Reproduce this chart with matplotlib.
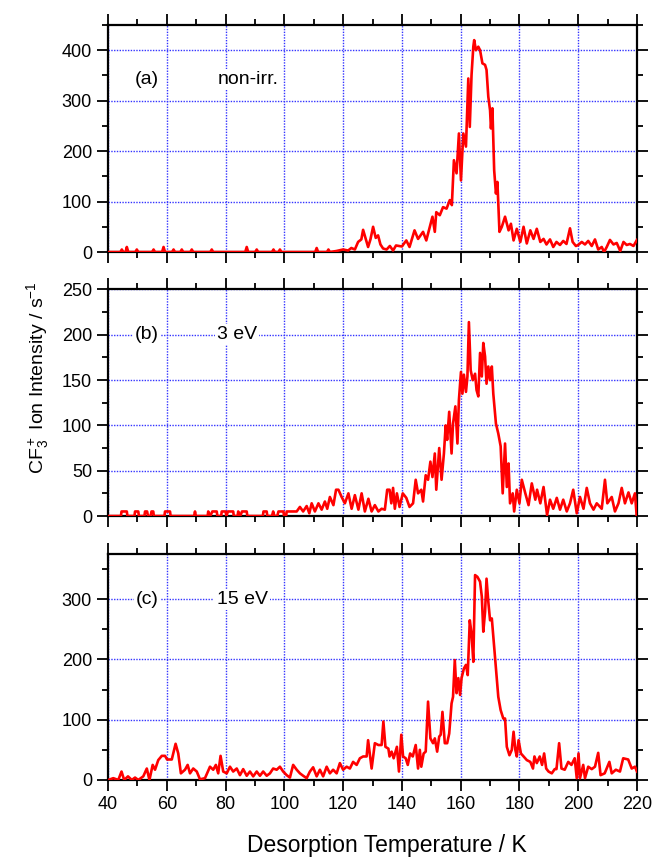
import matplotlib
matplotlib.use("Agg")
import matplotlib.pyplot as plt
from matplotlib.ticker import MultipleLocator

plt.rcParams['font.family'] = ['Liberation Sans', 'DejaVu Sans']
plt.rcParams['mathtext.fontset'] = 'custom'
plt.rcParams['mathtext.rm'] = 'Liberation Sans'
plt.rcParams['mathtext.it'] = 'Liberation Sans:italic'

# (a) non-irradiated
temp_a = [40, 44.2, 44.7, 45.2, 46.0, 46.4, 46.9, 49.3, 49.8, 50.3, 55.0, 55.5, 56.0,
          58.4, 58.9, 59.4, 61.8, 62.3, 62.8, 64.6, 65.1, 65.6, 68.0, 68.5, 69.0,
          74.8, 75.3, 75.8, 86.7, 87.2, 87.7, 90.1, 90.6, 91.1, 95.8, 96.3, 96.8,
          98.0, 98.5, 99.0, 110.5, 111.0, 111.5, 114.5, 115.0, 115.5,
          117.7, 120, 121.7, 122.8, 124, 125.1, 126.2, 126.8, 128, 128.5, 129.3, 130.2,
          131.1, 131.9, 132.7, 133.6, 134.8, 135.9, 137, 138, 140, 141.5, 142.6, 144.3,
          145.5, 147.2, 148.3, 149.5, 150.4, 151.2, 151.7, 152.9, 154, 155.2, 156.3, 157,
          157.7, 158.6, 159.4, 160.1, 160.9, 161.8, 162.6, 163.1, 163.7, 164.3, 164.6,
          165.2, 166, 166.6, 167.4, 168.3, 168.8, 169.4, 170, 170.3, 170.8, 171.4, 172,
          172.5, 173.2, 174, 175.1, 176.3, 177.1, 178, 179.1, 180.3, 181.4, 182.5, 183.7,
          184.8, 185.9, 187.1, 188.2, 189.2, 190.4, 191.5, 192.6, 193.8, 194.9, 196,
          197.2, 198.1, 199.2, 200, 201.2, 202.3, 203.4, 204.6, 205.7, 206.8, 208, 208.8,
          209.7, 210.8, 212, 213.1, 214.3, 215.4, 216.5, 217.6, 218.8, 220]
counts_a = [0, 0, 5, 0, 0, 10, 0, 0, 5, 0, 0, 5, 0,
            0, 10, 0, 0, 5, 0, 0, 5, 0, 0, 5, 0,
            0, 5, 0, 0, 10, 0, 0, 5, 0, 0, 5, 0,
            0, 5, 0, 0, 8, 0, 0, 5, 0,
            2, 5, 3, 8, 5, 20, 25, 44, 20, 10, 25, 50,
            28, 33, 15, 7, 5, 12, 3, 13, 11, 23, 10, 43,
            26, 40, 23, 50, 70, 40, 79, 73, 89, 86, 103, 93,
            182, 156, 235, 142, 235, 209, 344, 248, 351, 407, 420,
            400, 407, 400, 374, 371, 361, 308, 281, 245, 285, 162, 116,
            139, 40, 50, 70, 43, 56, 23, 46, 20, 50, 17, 43,
            26, 46, 20, 26, 15, 25, 10, 20, 14, 22, 16,
            47, 20, 12, 14, 20, 15, 22, 12, 25, 5, 10, 0,
            10, 24, 15, 18, 2, 20, 14, 16, 12, 24]

# (b) 3 eV
temp_b = [40, 44.4, 44.6, 46.4, 46.6, 49.0, 49.2, 50.3, 50.5, 52.4, 52.6, 53.3, 53.6,
          54.5, 54.8, 55.4, 55.6, 59.2, 59.4, 61.1, 61.3, 69.3, 69.6, 69.9, 73.9, 74.1,
          74.8, 75.5, 77.0, 77.2, 78.5, 78.7, 80, 80.3, 80.8, 82.6, 82.8, 84.1, 84.3, 85,
          85.6, 87.2, 87.4, 92.7, 92.9, 94, 94.2, 95.8, 96.2, 96.6, 97.6, 98, 99.7, 99.9,
          100.6, 100.8, 104.2, 105.3, 106.4, 107.6, 108.5, 109.3, 110.4, 111.6, 112.7,
          113.8, 114.6, 115.5, 116.7, 117.6, 118.4, 119.5, 120.6, 121.8, 122.9, 124,
          125.2, 126.3, 127.4, 128.6, 129.7, 130.8, 132, 133.1, 134.2, 135, 135.8, 136.4,
          137, 137.6, 138.3, 139.2, 140.3, 141.5, 142.6, 143.8, 144.7, 145.5, 146.6,
          147.2, 148.1, 148.9, 149.7, 150.4, 151.2, 151.7, 152.7, 153.5, 154.3, 154.9,
          155.4, 156.1, 156.9, 157.4, 158.2, 158.9, 159.4, 160.1, 160.6, 161.1, 161.8,
          162.3, 162.8, 163.4, 164.1, 164.9, 165.4, 166, 166.6, 167.2, 167.7, 168.3,
          168.8, 169.4, 170, 170.6, 171.1, 172, 172.8, 173.6, 174.3, 175.1, 175.7, 176.3,
          176.8, 177.7, 178.2, 179.1, 180, 180.8, 182, 183.1, 184.2, 185.4, 186, 187.1,
          188.2, 189.4, 190.4, 191.5, 192.7, 193.8, 194.9, 196.1, 197.2, 198.3, 199.5,
          200.6, 201.8, 202.9, 204, 205.2, 206.3, 208, 209.1, 209.9, 211.4, 212.5, 213.7,
          214.8, 215.9, 217.1, 218.2, 219.3, 219.9]
counts_b = [0, 0, 5, 5, 0, 0, 5, 5, 0, 0, 5, 5, 0,
            0, 5, 5, 0, 0, 5, 5, 0, 0, 5, 0, 0, 5,
            0, 5, 5, 0, 0, 5, 5, 0, 5, 5, 0, 0, 5, 0,
            5, 5, 0, 0, 5, 5, 0, 0, 5, 0, 0, 5, 5, 0,
            0, 5, 5, 10, 5, 11, 3, 14, 5, 14, 7,
            16, 8, 21, 12, 29, 29, 21, 14, 25, 8, 23,
            7, 25, 5, 19, 5, 12, 5, 8, 7, 29, 29, 14,
            31, 8, 25, 10, 25, 20, 10, 14, 40, 25, 29,
            16, 45, 40, 60, 43, 69, 29, 75, 40, 69, 100,
            84, 115, 69, 102, 121, 80, 128, 159, 135, 156, 137,
            154, 214, 161, 150, 157, 139, 132, 180, 154, 191, 176,
            146, 165, 150, 165, 135, 102, 91, 77, 25, 80, 32, 58,
            14, 25, 5, 29, 14, 40, 25, 12, 36, 18, 29, 14,
            32, 1, 18, 8, 20, 7, 18, 5, 14, 29, 3,
            21, 8, 31, 14, 7, 14, 8, 40, 14, 21, 5, 14,
            31, 14, 26, 14, 25, 0]

# (c) 15 eV
temp_c = [40.1, 41.8, 43.5, 44.6, 45.5, 46.8, 48.1, 49.2, 50.3, 52, 53.2, 54.1, 55.2, 56,
          57.1, 58.3, 59.4, 60.1, 61.7, 63, 63.9, 64.8, 66.2, 67.1, 67.9, 69, 70.2, 71.3,
          73, 74.7, 75.8, 76.7, 77.5, 78.3, 79.2, 80.4, 81.5, 82.6, 83.8, 84.9, 86, 87.2,
          88.3, 89.4, 90.6, 91.7, 92.8, 94, 95.1, 96.2, 97.4, 98.5, 99.6, 100.8, 101.9,
          103, 104.2, 105.3, 106.4, 107.6, 108.7, 109.8, 111, 112.1, 113.2, 114.4, 115.5,
          116.6, 117.8, 118.9, 120, 121.2, 122.3, 123.4, 124.6, 125.7, 126.8, 128, 128.5,
          129.7, 130.8, 132, 133.1, 133.7, 134.4, 135.4, 135.8, 136.5, 137.2, 138.3, 139,
          139.8, 140.4, 141.3, 142, 142.8, 143.7, 144.7, 145.5, 146.1, 146.6, 147.4, 148.1,
          148.9, 149.7, 150.6, 151.2, 152, 152.7, 153.2, 153.8, 154.6, 155.4, 156.1, 156.9,
          157.4, 158, 158.6, 159.2, 159.8, 160.3, 161.1, 161.8, 162.4, 163.1, 163.7, 164.3,
          164.9, 165.7, 166.6, 167.2, 167.7, 168.3, 168.8, 169.4, 170, 170.6, 171.1, 171.7,
          172.3, 172.8, 173.6, 174.5, 175.1, 175.7, 176.6, 177.4, 178, 178.6, 179.1, 179.7,
          180.5, 181.4, 182.5, 183.7, 184.6, 185.1, 185.9, 186.9, 187.7, 188.4, 189.1,
          189.9, 191, 192, 192.6, 193.5, 194.3, 195.4, 196.6, 197.7, 198.8, 199.5, 200.1,
          200.6, 201.7, 202.3, 203.4, 204.6, 205.7, 206.8, 207.6, 209, 210.6, 211.4, 212.8,
          214.2, 215.3, 217, 218.2, 219.3, 220]
counts_c = [0, 3, 0, 14, 0, 6, 0, 4, 0, 6, 19, 0, 25, 17,
            33, 40, 40, 34, 34, 60, 44, 11, 17, 25, 11, 19, 14, 1,
            3, 22, 17, 25, 11, 40, 14, 11, 22, 14, 19, 8, 18, 7,
            14, 6, 14, 7, 14, 7, 11, 19, 17, 22, 14, 8, 4,
            25, 17, 11, 7, 3, 14, 21, 6, 17, 6, 22, 11,
            17, 11, 28, 17, 22, 19, 30, 25, 36, 39, 39, 66,
            19, 61, 58, 58, 97, 55, 52, 39, 47, 36, 55, 14,
            75, 39, 36, 25, 44, 39, 58, 19, 50, 22, 44, 47,
            130, 69, 61, 69, 47, 72, 75, 113, 61, 61, 77, 127,
            138, 199, 144, 169, 141, 169, 185, 191, 174, 265, 243, 196,
            340, 337, 329, 304, 246, 279, 334, 296, 265, 268, 238, 204,
            166, 138, 116, 102, 102, 55, 41, 50, 80, 50, 39, 66,
            44, 39, 33, 30, 19, 39, 28, 39, 25, 44, 19,
            14, 11, 18, 18, 61, 19, 17, 30, 25, 36, 3, 44,
            3, 25, 3, 22, 18, 22, 45, 8, 11, 30, 11, 17,
            14, 36, 34, 19, 22, 14]

panels = [
    (temp_a, counts_a, 450, 100, 50, "(a)", "non-irr.", 342, 87.6),
    (temp_b, counts_b, 250, 50, 25, "(b)", "3 eV", 200, 83.9),
    (temp_c, counts_c, 375, 100, 50, "(c)", "15 eV", 300, 85.6),
]

fig = plt.figure(figsize=(6.53, 8.59), dpi=100)
left, width = 0.1654, 0.8101
bottoms = [0.7066, 0.3993, 0.0920]
heights = [0.2643, 0.2637, 0.2631]

for i, (t, c, ytop, ymaj, ymin, tag, label, ytext, xtext) in enumerate(panels):
    ax = fig.add_axes([left, bottoms[i], width, heights[i]])
    ax.plot(t, c, color='#ff0000', lw=1.9, zorder=3)
    ax.set_xlim(40, 220)
    ax.set_ylim(0, ytop)
    ax.xaxis.set_major_locator(MultipleLocator(20))
    ax.xaxis.set_minor_locator(MultipleLocator(10))
    ax.yaxis.set_major_locator(MultipleLocator(ymaj))
    ax.yaxis.set_minor_locator(MultipleLocator(ymin))
    ax.set_yticks([v for v in range(0, int(ytop) + 1, ymaj)])
    ax.grid(True, which='major', color='#3434ff', linestyle=(0, (1, 1)), lw=1.0, zorder=1)
    ax.tick_params(which='both', direction='out', top=True, right=True,
                   labelsize=13, width=1.3, colors='black')
    ax.tick_params(which='major', length=8)
    ax.tick_params(which='minor', length=4.5)
    for s in ax.spines.values():
        s.set_linewidth(1.6)
    if i < 2:
        ax.tick_params(labelbottom=False)
    ax.text(53.3, ytext, tag, fontsize=14, ha='center', va='center',
            bbox=dict(facecolor='white', edgecolor='none', pad=1.5), zorder=4)
    ax.text(xtext, ytext, label, fontsize=14, ha='center', va='center',
            bbox=dict(facecolor='white', edgecolor='none', pad=1.5), zorder=4)

fig.text(0.057, 0.56, r"CF$_3^+$ Ion Intensity / s$^{-1}$", rotation=90,
         fontsize=14, ha='center', va='center')
fig.text(0.593, 0.016, "Desorption Temperature / K", fontsize=16.5,
         ha='center', va='center')

fig.savefig("out.png", dpi=100)
